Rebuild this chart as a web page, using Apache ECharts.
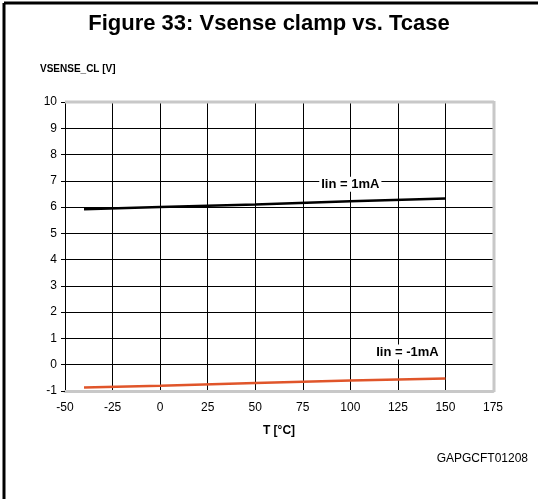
<!DOCTYPE html>
<html>
<head>
<meta charset="utf-8">
<script src="https://cdn.jsdelivr.net/npm/echarts@6/dist/echarts.min.js"></script>
<style>
  html, body { margin: 0; padding: 0; background: #fff; }
  #chart { width: 538px; height: 499px; }
</style>
</head>
<body>
<div id="chart"></div>
<script>
// values
var tempPts = [-40, 0, 50, 100, 150];
var vPlus1mA = [5.92, 6.0, 6.1, 6.22, 6.33];
var vMinus1mA = [-0.87, -0.8, -0.7, -0.6, -0.52];
var xTicks = [-50, 175, 25];   // min, max, step
var yTicks = [-1, 10, 1];

function pairs (xs, ys) {
  return xs.map(function (x, i) { return [x, ys[i]]; });
}

var font = 'Liberation Sans, Arial, sans-serif';
var chart = echarts.init(document.getElementById('chart'), null, { renderer: 'canvas' });

var option = {
  animation: false,
  backgroundColor: '#fff',
  title: {
    text: 'Figure 33: Vsense clamp vs. Tcase',
    left: 'center',
    top: 8,
    textStyle: { fontFamily: font, fontSize: 22, fontWeight: 'bold', color: '#000' }
  },
  grid: { left: 65, top: 102, width: 428, height: 289 },
  xAxis: {
    type: 'value',
    min: xTicks[0],
    max: xTicks[1],
    interval: xTicks[2],
    name: 'T [°C]',
    nameLocation: 'middle',
    nameGap: 34,
    nameTextStyle: { fontFamily: font, fontSize: 12, fontWeight: 'bold', color: '#000' },
    axisLine: { onZero: false, lineStyle: { color: '#c8c8c8', width: 3 } },
    axisTick: { show: false },
    axisLabel: { fontFamily: font, fontSize: 12, color: '#000', margin: 11 },
    splitLine: { show: true, lineStyle: { color: '#000', width: 1 } }
  },
  yAxis: {
    type: 'value',
    min: yTicks[0],
    max: yTicks[1],
    interval: yTicks[2],
    axisLine: { show: true, onZero: false, lineStyle: { color: '#000', width: 1 } },
    axisTick: { show: true, length: 4, lineStyle: { color: '#000' } },
    axisLabel: { fontFamily: font, fontSize: 12, color: '#000', margin: 8 },
    splitLine: { show: true, lineStyle: { color: '#000', width: 1 } }
  },
  graphic: [
    // outer frame (top and left only)
    { type: 'line', shape: { x1: 4, y1: 3, x2: 538, y2: 3 }, style: { stroke: '#000', lineWidth: 3 } },
    { type: 'line', shape: { x1: 4, y1: 3, x2: 4, y2: 499 }, style: { stroke: '#000', lineWidth: 3 } },
    // grey plot border top and right
    { type: 'line', shape: { x1: 65, y1: 102, x2: 494, y2: 102 }, style: { stroke: '#c8c8c8', lineWidth: 3 }, z: 10 },
    { type: 'line', shape: { x1: 494, y1: 101, x2: 494, y2: 392 }, style: { stroke: '#c8c8c8', lineWidth: 3 }, z: 10 },
    {
      type: 'text', left: 40, top: 64,
      style: { text: 'VSENSE_CL [V]', font: 'bold 10px ' + font, fill: '#000' }
    },
    {
      type: 'text', right: 10, top: 453,
      style: { text: 'GAPGCFT01208', font: '12px ' + font, fill: '#000' }
    }
  ],
  series: [
    {
      type: 'line',
      data: pairs(tempPts, vPlus1mA),
      showSymbol: false,
      lineStyle: { color: '#000', width: 2.5 },
      z: 5,
      markPoint: {
        symbol: 'rect',
        symbolSize: 1,
        itemStyle: { color: 'transparent' },
        label: {
          show: true, formatter: 'Iin = 1mA', fontFamily: font, fontSize: 13, fontWeight: 'bold',
          color: '#000', backgroundColor: '#fff', padding: [1, 2]
        },
        data: [{ coord: [100, 6.87] }]
      }
    },
    {
      type: 'line',
      data: pairs(tempPts, vMinus1mA),
      showSymbol: false,
      lineStyle: { color: '#e0552a', width: 2.5 },
      z: 5,
      markPoint: {
        symbol: 'rect',
        symbolSize: 1,
        itemStyle: { color: 'transparent' },
        label: {
          show: true, formatter: 'Iin = -1mA', fontFamily: font, fontSize: 13, fontWeight: 'bold',
          color: '#000', backgroundColor: '#fff', padding: [1, 2]
        },
        data: [{ coord: [130, 0.48] }]
      }
    }
  ]
};

chart.setOption(option);
</script>
</body>
</html>
